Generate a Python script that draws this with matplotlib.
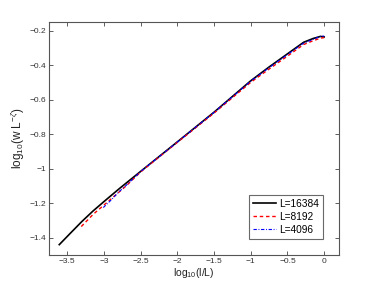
import matplotlib
matplotlib.use("Agg")
import matplotlib.pyplot as plt

plt.rcParams['font.family'] = ['Liberation Sans', 'DejaVu Sans']
plt.rcParams['mathtext.fontset'] = 'custom'
plt.rcParams['mathtext.rm'] = 'Liberation Sans'
plt.rcParams['mathtext.it'] = 'Liberation Sans:italic'

# L=16384
x_16384 = [-3.61, -3.45, -3.3, -3.15, -3.0, -2.785, -2.5, -2.0, -1.5, -1.0, -0.75, -0.5, -0.28, -0.15, -0.05, 0.0]
y_16384 = [-1.44, -1.37, -1.305, -1.245, -1.19, -1.113, -1.015, -0.844, -0.672, -0.49, -0.41, -0.334, -0.267, -0.245, -0.233, -0.236]
# L=8192
x_8192 = [-3.31, -3.15, -3.0, -2.85, -2.7, -2.5, -2.0, -1.5, -1.0, -0.75, -0.5, -0.28, -0.15, -0.05, 0.0]
y_8192 = [-1.335, -1.265, -1.21, -1.155, -1.1, -1.018, -0.847, -0.677, -0.499, -0.422, -0.347, -0.28, -0.258, -0.243, -0.24]
# L=4096
x_4096 = [-3.01, -2.9, -2.8, -2.7, -2.5, -2.0, -1.5, -1.0, -0.75, -0.5, -0.28, -0.15, -0.05, 0.0]
y_4096 = [-1.225, -1.18, -1.135, -1.097, -1.016, -0.845, -0.673, -0.492, -0.414, -0.338, -0.272, -0.25, -0.232, -0.231]

xticks = [-3.5, -3, -2.5, -2, -1.5, -1, -0.5, 0]
xticklabels = ['\u22123.5', '\u22123', '\u22122.5', '\u22122', '\u22121.5', '\u22121', '\u22120.5', '0']
yticks = [-1.4, -1.2, -1.0, -0.8, -0.6, -0.4, -0.2]
yticklabels = ['\u22121.4', '\u22121.2', '\u22121', '\u22120.8', '\u22120.6', '\u22120.4', '\u22120.2']

fig = plt.figure(figsize=(3.74, 2.87), dpi=100)
ax = fig.add_axes([0.131, 0.1115, 0.775, 0.8115])

ax.plot(x_16384, y_16384, '-', color='black', lw=1.2, label='L=16384')
ax.plot(x_8192, y_8192, '--', color='red', lw=1.0, dashes=(2.5, 2), label='L=8192')
ax.plot(x_4096, y_4096, '-.', color='blue', lw=0.8, dashes=(3, 1.5, 0.8, 1.5), label='L=4096')

ax.set_xlim(-3.75, 0.2)
ax.set_ylim(-1.5, -0.15)
ax.set_xticks(xticks)
ax.set_xticklabels(xticklabels)
ax.set_yticks(yticks)
ax.set_yticklabels(yticklabels)
ax.tick_params(direction='in', top=True, right=True, labelsize=6, length=3,
               width=0.6, colors='#444444', labelcolor='#333333', pad=2)
for s in ax.spines.values():
    s.set_color('#555555')
    s.set_linewidth(0.8)

ax.set_xlabel(r'log$_{10}$(l/L)', fontsize=7.5, color='#222222', labelpad=1)
ax.set_ylabel(r'log$_{10}$(w L$^{-\zeta}$)', fontsize=8.5, color='#222222', labelpad=2)

leg = ax.legend(loc='lower right', fontsize=7.3, frameon=True, fancybox=False,
                edgecolor='#444444', handlelength=2.2, borderpad=0.4,
                labelspacing=0.3, handletextpad=0.3, borderaxespad=1.6)
leg.get_frame().set_linewidth(0.8)

fig.savefig('out.png', dpi=100)
